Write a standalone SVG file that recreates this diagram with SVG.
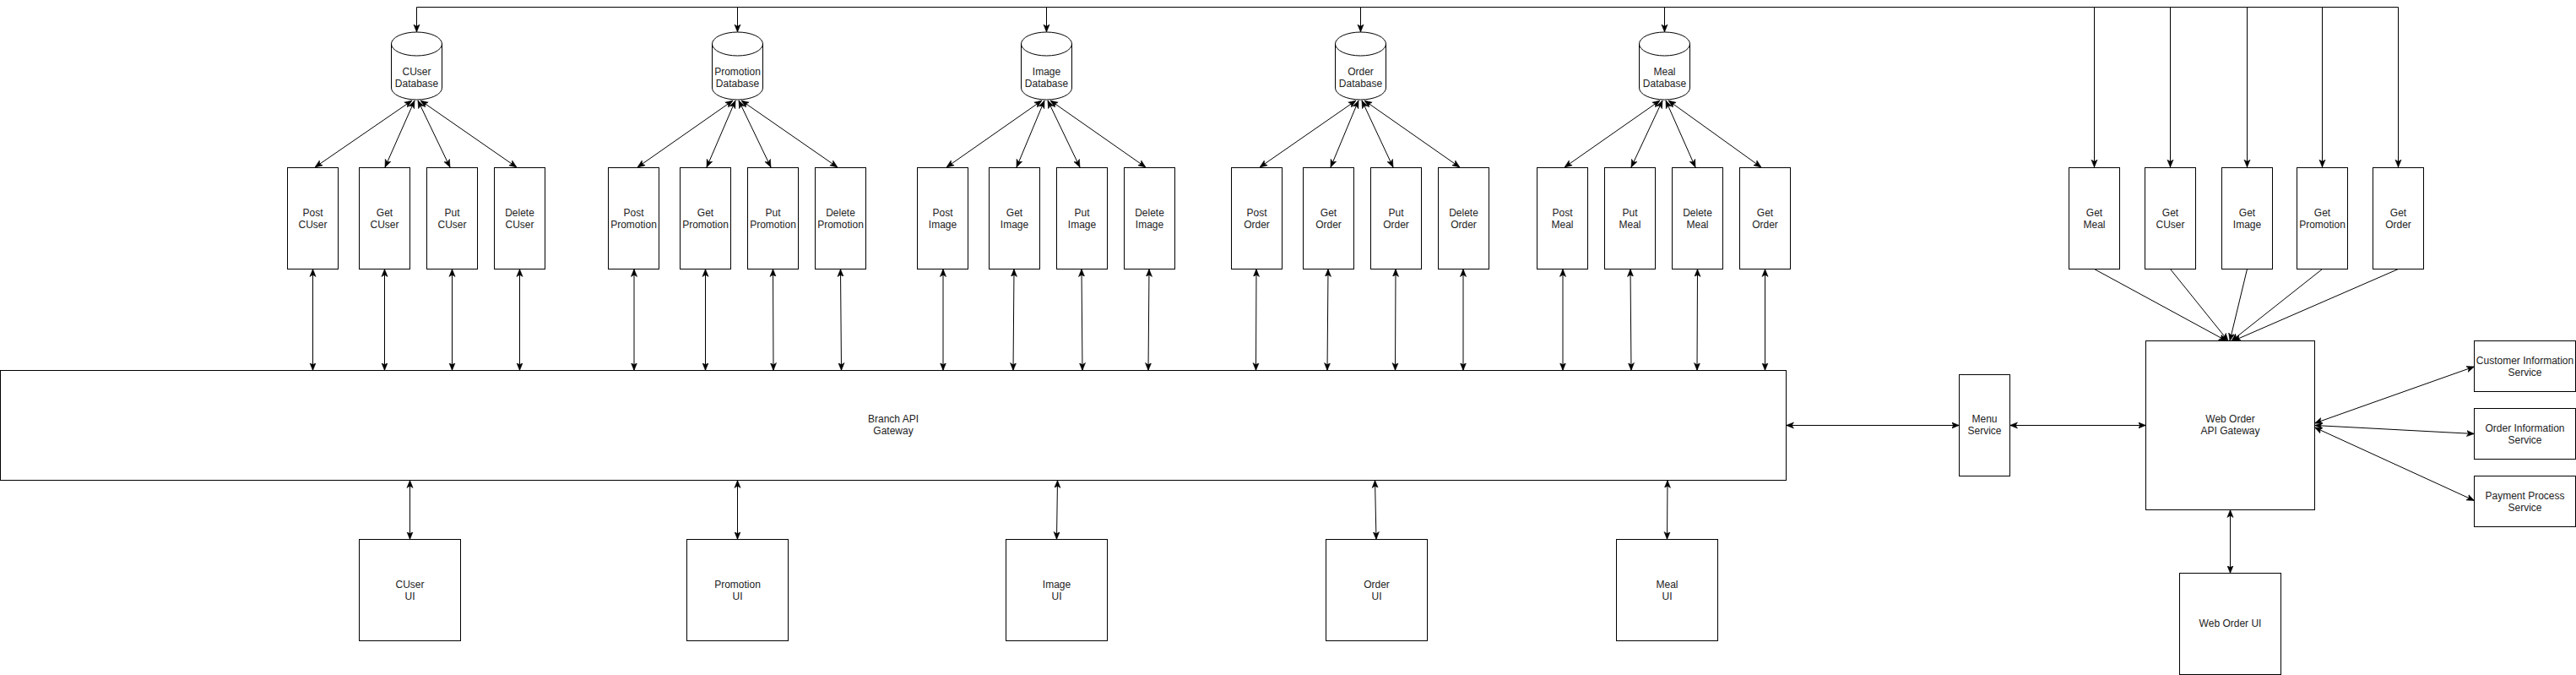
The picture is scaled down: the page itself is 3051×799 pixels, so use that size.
<svg xmlns="http://www.w3.org/2000/svg" width="3051" height="799" viewBox="0 0 3051 799">
<style>
.n{fill:#fff;stroke:#000;stroke-width:1}
.t{font-family:"Liberation Sans",Arial,Helvetica,sans-serif;font-size:12px;fill:#222;text-anchor:middle}
.e{fill:none;stroke:#000;stroke-width:1}
.a{marker-end:url(#arr)}
.d{marker-start:url(#arr);marker-end:url(#arr)}
</style>
<defs>
<marker id="arr" viewBox="0 0 10 10" refX="10" refY="5" markerWidth="9" markerHeight="9" markerUnits="userSpaceOnUse" orient="auto-start-reverse">
<path d="M0,1 L10,5 L0,9 L2.5,5 Z" fill="#000" stroke="#000" stroke-width="0.6"/>
</marker>
</defs>
<rect width="3051" height="799" fill="#fff"/>

<g id="connectors">
<!-- top bus -->
<path class="e" d="M493.5,8.5 H2840.5"/>
<path class="e a" d="M493.5,8.5 V38"/>
<path class="e a" d="M873.5,8.5 V38"/>
<path class="e a" d="M1239.5,8.5 V38"/>
<path class="e a" d="M1611.5,8.5 V38"/>
<path class="e a" d="M1971.5,8.5 V38"/>
<path class="e a" d="M2480.5,8.5 V198"/>
<path class="e a" d="M2570.5,8.5 V198"/>
<path class="e a" d="M2661.5,8.5 V198"/>
<path class="e a" d="M2750.5,8.5 V198"/>
<path class="e a" d="M2840.5,8.5 V198"/>

<!-- DB to boxes -->
<path class="e d" d="M488,119 L373,198"/>
<path class="e d" d="M491,119 L456,198"/>
<path class="e d" d="M495,119 L533,198"/>
<path class="e d" d="M498,119 L612,198"/>

<path class="e d" d="M868,119 L755,198"/>
<path class="e d" d="M871,119 L837,198"/>
<path class="e d" d="M875,119 L913,198"/>
<path class="e d" d="M878,119 L992,198"/>

<path class="e d" d="M1234,119 L1121,198"/>
<path class="e d" d="M1237,119 L1204,198"/>
<path class="e d" d="M1241,119 L1279,198"/>
<path class="e d" d="M1244,119 L1357,198"/>

<path class="e d" d="M1606,119 L1492,198"/>
<path class="e d" d="M1609,119 L1576,198"/>
<path class="e d" d="M1613,119 L1650,198"/>
<path class="e d" d="M1616,119 L1729,198"/>

<path class="e d" d="M1966,119 L1853,198"/>
<path class="e d" d="M1969,119 L1932,198"/>
<path class="e d" d="M1973,119 L2008,198"/>
<path class="e d" d="M1976,119 L2086,198"/>

<!-- boxes to branch gateway -->
<path class="e d" d="M370.5,318.5 L370.5,438.5"/>
<path class="e d" d="M455.5,318.5 L455.5,438.5"/>
<path class="e d" d="M535.5,318.5 L535.5,438.5"/>
<path class="e d" d="M615.5,318.5 L615.5,438.5"/>

<path class="e d" d="M751,318.5 L751,438.5"/>
<path class="e d" d="M835.5,318.5 L835.5,438.5"/>
<path class="e d" d="M915.5,318.5 L916,438.5"/>
<path class="e d" d="M995.5,318.5 L996.5,438.5"/>

<path class="e d" d="M1117,318.5 L1117,438.5"/>
<path class="e d" d="M1201,318.5 L1200,438.5"/>
<path class="e d" d="M1281,318.5 L1282,438.5"/>
<path class="e d" d="M1361,318.5 L1360,438.5"/>

<path class="e d" d="M1488,318.5 L1487.5,438.5"/>
<path class="e d" d="M1573,318.5 L1572,438.5"/>
<path class="e d" d="M1653,318.5 L1652.5,438.5"/>
<path class="e d" d="M1733,318.5 L1733,438.5"/>

<path class="e d" d="M1851,318.5 L1851,438.5"/>
<path class="e d" d="M1931,318.5 L1932,438.5"/>
<path class="e d" d="M2010.5,318.5 L2010,438.5"/>
<path class="e d" d="M2090.5,318.5 L2090.5,438.5"/>

<!-- branch gateway to UIs -->
<path class="e d" d="M485.5,568.5 L485.5,638.5"/>
<path class="e d" d="M873.5,568.5 L873.5,638.5"/>
<path class="e d" d="M1252.5,568.5 L1251.5,638.5"/>
<path class="e d" d="M1628.5,568.5 L1630,638.5"/>
<path class="e d" d="M1975,568.5 L1974.5,638.5"/>

<!-- gateway - menu - web order -->
<path class="e d" d="M2115.5,503.5 L2320.5,503.5"/>
<path class="e d" d="M2380.5,503.5 L2541.5,503.5"/>
<path class="e d" d="M2641.5,603.5 L2641.5,678.5"/>

<!-- get boxes to web order gateway -->
<path class="e a" d="M2480.5,318.5 L2637,403.5"/>
<path class="e a" d="M2570.5,318.5 L2639,403.5"/>
<path class="e a" d="M2661.5,318.5 L2641,403.5"/>
<path class="e a" d="M2750.5,318.5 L2643,403.5"/>
<path class="e a" d="M2840.5,318.5 L2645,403.5"/>

<!-- web order gateway to services -->
<path class="e d" d="M2741.5,501 L2930.5,434"/>
<path class="e d" d="M2741.5,503.5 L2930.5,513.5"/>
<path class="e d" d="M2741.5,506 L2930.5,592.5"/>
</g>

<!-- Databases -->
<g id="db-cuser">
<path class="n" d="M463.5,52 A30,14 0 0 1 523.5,52 L523.5,104 A30,14 0 0 1 463.5,104 Z"/>
<path class="e" d="M463.5,52 A30,14 0 0 0 523.5,52"/>
<text class="t" x="493.5" y="89">CUser</text><text class="t" x="493.5" y="103">Database</text>
</g>
<g id="db-promotion">
<path class="n" d="M843.5,52 A30,14 0 0 1 903.5,52 L903.5,104 A30,14 0 0 1 843.5,104 Z"/>
<path class="e" d="M843.5,52 A30,14 0 0 0 903.5,52"/>
<text class="t" x="873.5" y="89">Promotion</text><text class="t" x="873.5" y="103">Database</text>
</g>
<g id="db-image">
<path class="n" d="M1209.5,52 A30,14 0 0 1 1269.5,52 L1269.5,104 A30,14 0 0 1 1209.5,104 Z"/>
<path class="e" d="M1209.5,52 A30,14 0 0 0 1269.5,52"/>
<text class="t" x="1239.5" y="89">Image</text><text class="t" x="1239.5" y="103">Database</text>
</g>
<g id="db-order">
<path class="n" d="M1581.5,52 A30,14 0 0 1 1641.5,52 L1641.5,104 A30,14 0 0 1 1581.5,104 Z"/>
<path class="e" d="M1581.5,52 A30,14 0 0 0 1641.5,52"/>
<text class="t" x="1611.5" y="89">Order</text><text class="t" x="1611.5" y="103">Database</text>
</g>
<g id="db-meal">
<path class="n" d="M1941.5,52 A30,14 0 0 1 2001.5,52 L2001.5,104 A30,14 0 0 1 1941.5,104 Z"/>
<path class="e" d="M1941.5,52 A30,14 0 0 0 2001.5,52"/>
<text class="t" x="1971.5" y="89">Meal</text><text class="t" x="1971.5" y="103">Database</text>
</g>

<!-- CUser operations -->
<g id="post-cuser"><rect class="n" x="340.5" y="198.5" width="60" height="120"/><text class="t" x="370.5" y="256">Post</text><text class="t" x="370.5" y="270">CUser</text></g>
<g id="get-cuser"><rect class="n" x="425.5" y="198.5" width="60" height="120"/><text class="t" x="455.5" y="256">Get</text><text class="t" x="455.5" y="270">CUser</text></g>
<g id="put-cuser"><rect class="n" x="505.5" y="198.5" width="60" height="120"/><text class="t" x="535.5" y="256">Put</text><text class="t" x="535.5" y="270">CUser</text></g>
<g id="delete-cuser"><rect class="n" x="585.5" y="198.5" width="60" height="120"/><text class="t" x="615.5" y="256">Delete</text><text class="t" x="615.5" y="270">CUser</text></g>

<!-- Promotion operations -->
<g id="post-promotion"><rect class="n" x="720.5" y="198.5" width="60" height="120"/><text class="t" x="750.5" y="256">Post</text><text class="t" x="750.5" y="270">Promotion</text></g>
<g id="get-promotion"><rect class="n" x="805.5" y="198.5" width="60" height="120"/><text class="t" x="835.5" y="256">Get</text><text class="t" x="835.5" y="270">Promotion</text></g>
<g id="put-promotion"><rect class="n" x="885.5" y="198.5" width="60" height="120"/><text class="t" x="915.5" y="256">Put</text><text class="t" x="915.5" y="270">Promotion</text></g>
<g id="delete-promotion"><rect class="n" x="965.5" y="198.5" width="60" height="120"/><text class="t" x="995.5" y="256">Delete</text><text class="t" x="995.5" y="270">Promotion</text></g>

<!-- Image operations -->
<g id="post-image"><rect class="n" x="1086.5" y="198.5" width="60" height="120"/><text class="t" x="1116.5" y="256">Post</text><text class="t" x="1116.5" y="270">Image</text></g>
<g id="get-image"><rect class="n" x="1171.5" y="198.5" width="60" height="120"/><text class="t" x="1201.5" y="256">Get</text><text class="t" x="1201.5" y="270">Image</text></g>
<g id="put-image"><rect class="n" x="1251.5" y="198.5" width="60" height="120"/><text class="t" x="1281.5" y="256">Put</text><text class="t" x="1281.5" y="270">Image</text></g>
<g id="delete-image"><rect class="n" x="1331.5" y="198.5" width="60" height="120"/><text class="t" x="1361.5" y="256">Delete</text><text class="t" x="1361.5" y="270">Image</text></g>

<!-- Order operations -->
<g id="post-order"><rect class="n" x="1458.5" y="198.5" width="60" height="120"/><text class="t" x="1488.5" y="256">Post</text><text class="t" x="1488.5" y="270">Order</text></g>
<g id="get-order"><rect class="n" x="1543.5" y="198.5" width="60" height="120"/><text class="t" x="1573.5" y="256">Get</text><text class="t" x="1573.5" y="270">Order</text></g>
<g id="put-order"><rect class="n" x="1623.5" y="198.5" width="60" height="120"/><text class="t" x="1653.5" y="256">Put</text><text class="t" x="1653.5" y="270">Order</text></g>
<g id="delete-order"><rect class="n" x="1703.5" y="198.5" width="60" height="120"/><text class="t" x="1733.5" y="256">Delete</text><text class="t" x="1733.5" y="270">Order</text></g>

<!-- Meal operations -->
<g id="post-meal"><rect class="n" x="1820.5" y="198.5" width="60" height="120"/><text class="t" x="1850.5" y="256">Post</text><text class="t" x="1850.5" y="270">Meal</text></g>
<g id="put-meal"><rect class="n" x="1900.5" y="198.5" width="60" height="120"/><text class="t" x="1930.5" y="256">Put</text><text class="t" x="1930.5" y="270">Meal</text></g>
<g id="delete-meal"><rect class="n" x="1980.5" y="198.5" width="60" height="120"/><text class="t" x="2010.5" y="256">Delete</text><text class="t" x="2010.5" y="270">Meal</text></g>
<g id="get-order-2"><rect class="n" x="2060.5" y="198.5" width="60" height="120"/><text class="t" x="2090.5" y="256">Get</text><text class="t" x="2090.5" y="270">Order</text></g>

<!-- Right-side get operations -->
<g id="get-meal-r"><rect class="n" x="2450.5" y="198.5" width="60" height="120"/><text class="t" x="2480.5" y="256">Get</text><text class="t" x="2480.5" y="270">Meal</text></g>
<g id="get-cuser-r"><rect class="n" x="2540.5" y="198.5" width="60" height="120"/><text class="t" x="2570.5" y="256">Get</text><text class="t" x="2570.5" y="270">CUser</text></g>
<g id="get-image-r"><rect class="n" x="2631.5" y="198.5" width="60" height="120"/><text class="t" x="2661.5" y="256">Get</text><text class="t" x="2661.5" y="270">Image</text></g>
<g id="get-promotion-r"><rect class="n" x="2720.5" y="198.5" width="60" height="120"/><text class="t" x="2750.5" y="256">Get</text><text class="t" x="2750.5" y="270">Promotion</text></g>
<g id="get-order-r"><rect class="n" x="2810.5" y="198.5" width="60" height="120"/><text class="t" x="2840.5" y="256">Get</text><text class="t" x="2840.5" y="270">Order</text></g>

<!-- Branch API Gateway -->
<g id="branch-gateway"><rect class="n" x="0.5" y="438.5" width="2115" height="130"/><text class="t" x="1058" y="500">Branch API</text><text class="t" x="1058" y="514">Gateway</text></g>

<!-- UIs -->
<g id="cuser-ui"><rect class="n" x="425.5" y="638.5" width="120" height="120"/><text class="t" x="485.5" y="696">CUser</text><text class="t" x="485.5" y="710">UI</text></g>
<g id="promotion-ui"><rect class="n" x="813.5" y="638.5" width="120" height="120"/><text class="t" x="873.5" y="696">Promotion</text><text class="t" x="873.5" y="710">UI</text></g>
<g id="image-ui"><rect class="n" x="1191.5" y="638.5" width="120" height="120"/><text class="t" x="1251.5" y="696">Image</text><text class="t" x="1251.5" y="710">UI</text></g>
<g id="order-ui"><rect class="n" x="1570.5" y="638.5" width="120" height="120"/><text class="t" x="1630.5" y="696">Order</text><text class="t" x="1630.5" y="710">UI</text></g>
<g id="meal-ui"><rect class="n" x="1914.5" y="638.5" width="120" height="120"/><text class="t" x="1974.5" y="696">Meal</text><text class="t" x="1974.5" y="710">UI</text></g>

<!-- Menu Service -->
<g id="menu-service"><rect class="n" x="2320.5" y="443.5" width="60" height="120"/><text class="t" x="2350.5" y="500">Menu</text><text class="t" x="2350.5" y="514">Service</text></g>

<!-- Web Order API Gateway -->
<g id="web-order-gateway"><rect class="n" x="2541.5" y="403.5" width="200" height="200"/><text class="t" x="2641.5" y="500">Web Order</text><text class="t" x="2641.5" y="514">API Gateway</text></g>

<!-- Web Order UI -->
<g id="web-order-ui"><rect class="n" x="2581.5" y="678.5" width="120" height="120"/><text class="t" x="2641.5" y="742">Web Order UI</text></g>

<!-- Services -->
<g id="customer-info-service"><rect class="n" x="2930.5" y="403.5" width="120" height="60"/><text class="t" x="2990.5" y="431">Customer Information</text><text class="t" x="2990.5" y="445">Service</text></g>
<g id="order-info-service"><rect class="n" x="2930.5" y="483.5" width="120" height="60"/><text class="t" x="2990.5" y="511">Order Information</text><text class="t" x="2990.5" y="525">Service</text></g>
<g id="payment-service"><rect class="n" x="2930.5" y="563.5" width="120" height="60"/><text class="t" x="2990.5" y="591">Payment Process</text><text class="t" x="2990.5" y="605">Service</text></g>
</svg>
